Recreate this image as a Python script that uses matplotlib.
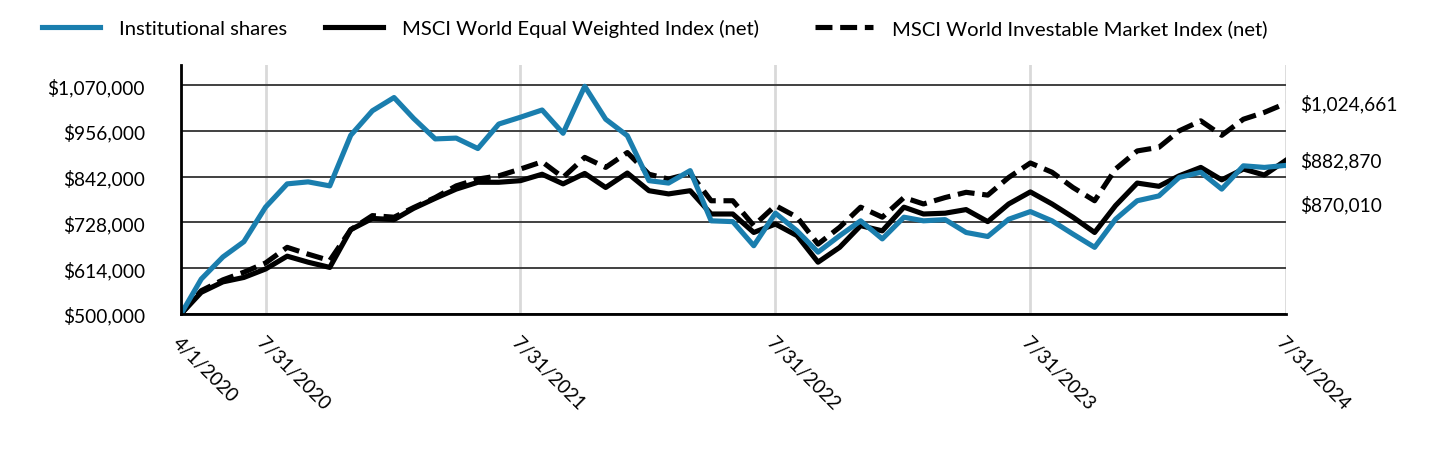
import matplotlib
matplotlib.use("Agg")
import matplotlib.pyplot as plt
import matplotlib.dates as mdates
import pandas as pd
from matplotlib.ticker import FixedLocator, FuncFormatter

plt.rcParams['font.family'] = ['Lato', 'DejaVu Sans']

dates = [pd.Timestamp('2020-04-01')] + list(pd.date_range('2020-04-30', '2024-07-31', freq='ME'))

institutional = [500000, 587000, 642000, 680000, 766000, 824000, 829000, 819000, 945000, 1006000,
                 1039000, 987000, 936000, 938000, 912000, 973000, 990000, 1008000, 950000, 1067000,
                 985000, 944000, 832000, 826000, 857000, 732000, 730000, 670000, 751000, 707000,
                 654000, 695000, 732000, 687000, 741000, 732000, 735000, 703000, 693000, 736000,
                 755000, 732000, 699000, 666000, 736000, 782000, 794000, 840000, 853000, 811000,
                 869000, 865000, 870010]
equal_weighted = [500000, 554000, 580000, 591000, 612000, 644000, 629000, 616000, 710000, 738000,
                  735000, 763000, 788000, 811000, 828000, 828000, 832000, 848000, 824000, 850000,
                  815000, 851000, 807000, 799000, 807000, 749000, 749000, 703000, 724000, 695000,
                  629000, 666000, 720000, 707000, 766000, 749000, 751000, 760000, 730000, 774000,
                  804000, 774000, 741000, 703000, 770000, 826000, 818000, 844000, 865000, 834000,
                  861000, 846000, 882870]
investable = [500000, 558000, 585000, 604000, 627000, 666000, 649000, 633000, 710000, 745000,
              741000, 765000, 790000, 819000, 836000, 844000, 861000, 879000, 840000, 890000,
              865000, 902000, 848000, 836000, 850000, 782000, 782000, 720000, 770000, 741000,
              674000, 716000, 766000, 741000, 790000, 774000, 790000, 803000, 796000, 840000,
              876000, 853000, 815000, 782000, 861000, 906000, 915000, 956000, 981000, 945000,
              985000, 1002000, 1024661]

series_names = ["Institutional shares", "MSCI World Equal Weighted Index (net)",
                "MSCI World Investable Market Index (net)"]
y_ticks = [500000, 614000, 728000, 842000, 956000, 1070000]
x_tick_labels = ["4/1/2020", "7/31/2020", "7/31/2021", "7/31/2022", "7/31/2023", "7/31/2024"]
end_labels = ["$1,024,661", "$882,870", "$870,010"]

BLUE = '#1a7eae'

fig = plt.figure(figsize=(14.4, 4.56), dpi=100)
ax = fig.add_axes([181/1440, 1-315/456, (1286-181)/1440, (315-66)/456])

lw = 3.7
h_imi, = ax.plot(dates, investable, color='black', lw=lw, dashes=(3.3, 1.5), zorder=3,
                 solid_capstyle='butt', dash_capstyle='butt', label=series_names[2])
h_eqw, = ax.plot(dates, equal_weighted, color='black', lw=lw, zorder=4, label=series_names[1])
h_inst, = ax.plot(dates, institutional, color=BLUE, lw=lw, zorder=5, label=series_names[0])

ax.set_xlim(dates[0], dates[-1])
ax.set_ylim(500000, 1120000)

xt = [mdates.date2num(pd.Timestamp(d)) for d in x_tick_labels]
ax.xaxis.set_major_locator(FixedLocator(xt))
ax.set_xticklabels(x_tick_labels)
ax.set_yticks(y_ticks)
ax.yaxis.set_major_formatter(FuncFormatter(lambda v, p: f"${v:,.0f}"))

for s in ['top', 'right']:
    ax.spines[s].set_visible(False)
for s in ['left', 'bottom']:
    ax.spines[s].set_linewidth(2)
    ax.spines[s].set_color('black')
    ax.spines[s].set_zorder(6)

ax.yaxis.grid(True, color='#404040', lw=1.4, zorder=1)
ax.xaxis.grid(True, color='#d9d9d9', lw=2, zorder=0)
ax.set_axisbelow(True)

ax.tick_params(axis='y', length=0, pad=26, labelsize=13.8)
ax.tick_params(axis='x', length=0, pad=14, labelsize=13.8)
for lab in ax.get_xticklabels():
    lab.set_rotation(-45)
    lab.set_ha('left')
    lab.set_va('top')
    lab.set_rotation_mode('anchor')

# end labels
offsets = [0, 0, -28]
vals = [investable[-1], equal_weighted[-1], institutional[-1]]
for txt, v, off in zip(end_labels, vals, offsets):
    ax.annotate(txt, xy=(1.0, v), xycoords=('axes fraction', 'data'),
                xytext=(10, off), textcoords='offset points',
                va='center', ha='left', fontsize=13.8, annotation_clip=False)

# legends
legend_pos = [42, 325, 815]
for h, xp in zip([h_inst, h_eqw, h_imi], legend_pos):
    fig.legend(handles=[h], loc='center left', bbox_to_anchor=(xp/1440, 1-29/456),
               frameon=False, fontsize=14.6, handlelength=2.86, handletextpad=0.95,
               borderaxespad=0, borderpad=0)

fig.savefig('out.png', dpi=100)
